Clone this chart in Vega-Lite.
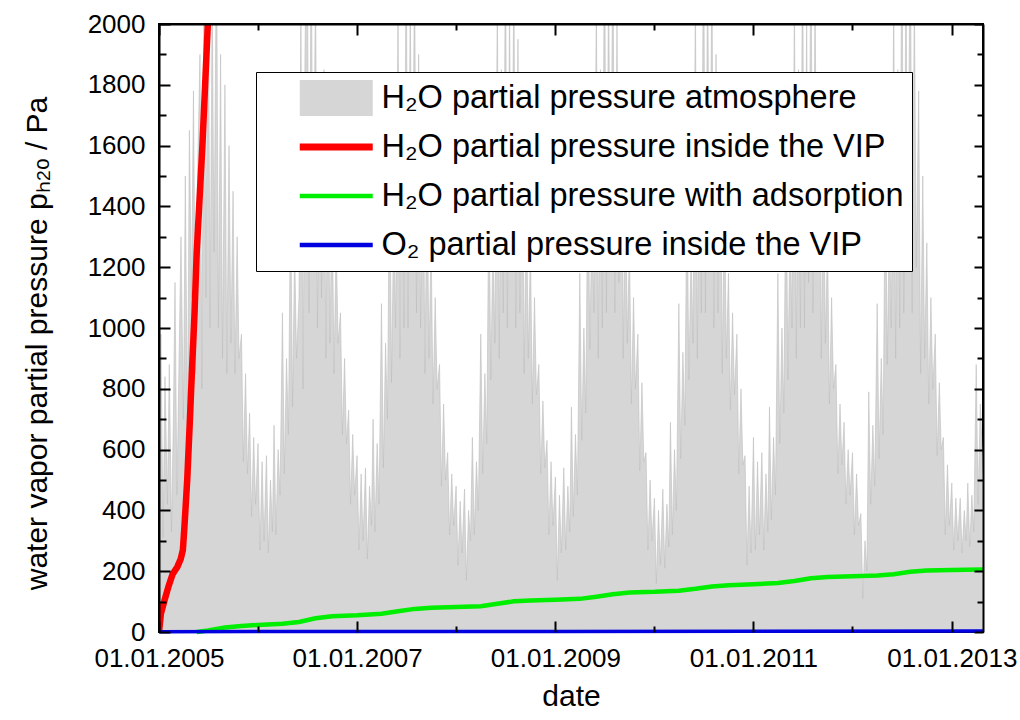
{
  "$schema": "https://vega.github.io/schema/vega-lite/v6.json",
  "width": 824,
  "height": 608,
  "autosize": "none",
  "padding": {"left": 159, "top": 24, "right": 37, "bottom": 88},
  "background": "white",
  "config": {
    "view": {"stroke": "black", "strokeWidth": 2},
    "font": "Liberation Sans",
    "legend": {"strokeWidth": 1},
    "axis": {
      "grid": false,
      "ticks": true,
      "domainColor": "black",
      "domainWidth": 2,
      "tickColor": "#000000",
      "tickOpacity": 1,
      "tickWidth": 2,
      "labelColor": "black",
      "labelFont": "Liberation Sans",
      "labelFontSize": 26,
      "titleFont": "Liberation Sans",
      "titleFontSize": 30,
      "titleFontWeight": "normal",
      "titleColor": "black"
    }
  },
  "datasets": {
    "atm": [
      {"d": "2005/01/01", "v": 620}, {"d": "2005/01/08", "v": 980}, {"d": "2005/01/16", "v": 310}, {"d": "2005/01/23", "v": 840},
      {"d": "2005/02/01", "v": 420}, {"d": "2005/02/08", "v": 880}, {"d": "2005/02/16", "v": 330}, {"d": "2005/02/23", "v": 700},
      {"d": "2005/03/01", "v": 1150}, {"d": "2005/03/08", "v": 450}, {"d": "2005/03/16", "v": 900}, {"d": "2005/03/23", "v": 1300},
      {"d": "2005/04/01", "v": 700}, {"d": "2005/04/08", "v": 1500}, {"d": "2005/04/16", "v": 640}, {"d": "2005/04/23", "v": 1650},
      {"d": "2005/05/01", "v": 1100}, {"d": "2005/05/08", "v": 1780}, {"d": "2005/05/16", "v": 850}, {"d": "2005/05/23", "v": 1500},
      {"d": "2005/06/01", "v": 1900}, {"d": "2005/06/08", "v": 800}, {"d": "2005/06/16", "v": 2250}, {"d": "2005/06/23", "v": 1100},
      {"d": "2005/07/01", "v": 2350}, {"d": "2005/07/08", "v": 1000}, {"d": "2005/07/16", "v": 2100}, {"d": "2005/07/23", "v": 1250},
      {"d": "2005/08/01", "v": 2300}, {"d": "2005/08/08", "v": 1000}, {"d": "2005/08/16", "v": 1900}, {"d": "2005/08/23", "v": 900},
      {"d": "2005/09/01", "v": 1800}, {"d": "2005/09/08", "v": 850}, {"d": "2005/09/16", "v": 1600}, {"d": "2005/09/23", "v": 950},
      {"d": "2005/10/01", "v": 1450}, {"d": "2005/10/08", "v": 850}, {"d": "2005/10/16", "v": 1300}, {"d": "2005/10/23", "v": 900},
      {"d": "2005/11/01", "v": 980}, {"d": "2005/11/08", "v": 560}, {"d": "2005/11/16", "v": 850}, {"d": "2005/11/23", "v": 520},
      {"d": "2005/12/01", "v": 720}, {"d": "2005/12/08", "v": 380}, {"d": "2005/12/16", "v": 640}, {"d": "2005/12/23", "v": 420},
      {"d": "2006/01/01", "v": 620}, {"d": "2006/01/08", "v": 270}, {"d": "2006/01/16", "v": 560}, {"d": "2006/01/23", "v": 300},
      {"d": "2006/02/01", "v": 580}, {"d": "2006/02/08", "v": 260}, {"d": "2006/02/16", "v": 500}, {"d": "2006/02/23", "v": 330},
      {"d": "2006/03/01", "v": 680}, {"d": "2006/03/08", "v": 320}, {"d": "2006/03/16", "v": 600}, {"d": "2006/03/23", "v": 450},
      {"d": "2006/04/01", "v": 1050}, {"d": "2006/04/08", "v": 520}, {"d": "2006/04/16", "v": 900}, {"d": "2006/04/23", "v": 650},
      {"d": "2006/05/01", "v": 1450}, {"d": "2006/05/08", "v": 740}, {"d": "2006/05/16", "v": 1250}, {"d": "2006/05/23", "v": 900},
      {"d": "2006/06/01", "v": 1100}, {"d": "2006/06/08", "v": 2050}, {"d": "2006/06/16", "v": 800}, {"d": "2006/06/23", "v": 1900},
      {"d": "2006/07/01", "v": 2450}, {"d": "2006/07/08", "v": 1050}, {"d": "2006/07/16", "v": 2300}, {"d": "2006/07/23", "v": 1250},
      {"d": "2006/08/01", "v": 2150}, {"d": "2006/08/08", "v": 1000}, {"d": "2006/08/16", "v": 1800}, {"d": "2006/08/23", "v": 1100},
      {"d": "2006/09/01", "v": 1850}, {"d": "2006/09/08", "v": 900}, {"d": "2006/09/16", "v": 1650}, {"d": "2006/09/23", "v": 950},
      {"d": "2006/10/01", "v": 1450}, {"d": "2006/10/08", "v": 850}, {"d": "2006/10/16", "v": 1300}, {"d": "2006/10/23", "v": 950},
      {"d": "2006/11/01", "v": 1050}, {"d": "2006/11/08", "v": 650}, {"d": "2006/11/16", "v": 900}, {"d": "2006/11/23", "v": 620},
      {"d": "2006/12/01", "v": 730}, {"d": "2006/12/08", "v": 420}, {"d": "2006/12/16", "v": 650}, {"d": "2006/12/23", "v": 450},
      {"d": "2007/01/01", "v": 580}, {"d": "2007/01/08", "v": 270}, {"d": "2007/01/16", "v": 520}, {"d": "2007/01/23", "v": 300},
      {"d": "2007/02/01", "v": 540}, {"d": "2007/02/08", "v": 240}, {"d": "2007/02/16", "v": 480}, {"d": "2007/02/23", "v": 350},
      {"d": "2007/03/01", "v": 700}, {"d": "2007/03/08", "v": 330}, {"d": "2007/03/16", "v": 620}, {"d": "2007/03/23", "v": 420},
      {"d": "2007/04/01", "v": 1080}, {"d": "2007/04/08", "v": 540}, {"d": "2007/04/16", "v": 950}, {"d": "2007/04/23", "v": 700},
      {"d": "2007/05/01", "v": 1580}, {"d": "2007/05/08", "v": 820}, {"d": "2007/05/16", "v": 1350}, {"d": "2007/05/23", "v": 1000},
      {"d": "2007/06/01", "v": 2050}, {"d": "2007/06/08", "v": 900}, {"d": "2007/06/16", "v": 1800}, {"d": "2007/06/23", "v": 1000},
      {"d": "2007/07/01", "v": 2280}, {"d": "2007/07/08", "v": 1000}, {"d": "2007/07/16", "v": 2100}, {"d": "2007/07/23", "v": 1200},
      {"d": "2007/08/01", "v": 2200}, {"d": "2007/08/08", "v": 1050}, {"d": "2007/08/16", "v": 1900}, {"d": "2007/08/23", "v": 1000},
      {"d": "2007/09/01", "v": 1750}, {"d": "2007/09/08", "v": 850}, {"d": "2007/09/16", "v": 1500}, {"d": "2007/09/23", "v": 900},
      {"d": "2007/10/01", "v": 1280}, {"d": "2007/10/08", "v": 750}, {"d": "2007/10/16", "v": 1100}, {"d": "2007/10/23", "v": 800},
      {"d": "2007/11/01", "v": 880}, {"d": "2007/11/08", "v": 480}, {"d": "2007/11/16", "v": 750}, {"d": "2007/11/23", "v": 500},
      {"d": "2007/12/01", "v": 590}, {"d": "2007/12/08", "v": 320}, {"d": "2007/12/16", "v": 520}, {"d": "2007/12/23", "v": 350},
      {"d": "2008/01/01", "v": 480}, {"d": "2008/01/08", "v": 220}, {"d": "2008/01/16", "v": 430}, {"d": "2008/01/23", "v": 260},
      {"d": "2008/02/01", "v": 470}, {"d": "2008/02/08", "v": 170}, {"d": "2008/02/16", "v": 400}, {"d": "2008/02/23", "v": 300},
      {"d": "2008/03/01", "v": 640}, {"d": "2008/03/08", "v": 320}, {"d": "2008/03/16", "v": 560}, {"d": "2008/03/23", "v": 400},
      {"d": "2008/04/01", "v": 980}, {"d": "2008/04/08", "v": 520}, {"d": "2008/04/16", "v": 850}, {"d": "2008/04/23", "v": 620},
      {"d": "2008/05/01", "v": 1480}, {"d": "2008/05/08", "v": 830}, {"d": "2008/05/16", "v": 1300}, {"d": "2008/05/23", "v": 950},
      {"d": "2008/06/01", "v": 2080}, {"d": "2008/06/08", "v": 900}, {"d": "2008/06/16", "v": 1850}, {"d": "2008/06/23", "v": 1050},
      {"d": "2008/07/01", "v": 2280}, {"d": "2008/07/08", "v": 1000}, {"d": "2008/07/16", "v": 2050}, {"d": "2008/07/23", "v": 1200},
      {"d": "2008/08/01", "v": 2150}, {"d": "2008/08/08", "v": 1000}, {"d": "2008/08/16", "v": 1950}, {"d": "2008/08/23", "v": 1050},
      {"d": "2008/09/01", "v": 1680}, {"d": "2008/09/08", "v": 850}, {"d": "2008/09/16", "v": 1450}, {"d": "2008/09/23", "v": 900},
      {"d": "2008/10/01", "v": 1270}, {"d": "2008/10/08", "v": 750}, {"d": "2008/10/16", "v": 1100}, {"d": "2008/10/23", "v": 780},
      {"d": "2008/11/01", "v": 880}, {"d": "2008/11/08", "v": 520}, {"d": "2008/11/16", "v": 760}, {"d": "2008/11/23", "v": 540},
      {"d": "2008/12/01", "v": 630}, {"d": "2008/12/08", "v": 320}, {"d": "2008/12/16", "v": 560}, {"d": "2008/12/23", "v": 350},
      {"d": "2009/01/01", "v": 510}, {"d": "2009/01/08", "v": 170}, {"d": "2009/01/16", "v": 450}, {"d": "2009/01/23", "v": 260},
      {"d": "2009/02/01", "v": 540}, {"d": "2009/02/08", "v": 270}, {"d": "2009/02/16", "v": 480}, {"d": "2009/02/23", "v": 330},
      {"d": "2009/03/01", "v": 740}, {"d": "2009/03/08", "v": 380}, {"d": "2009/03/16", "v": 650}, {"d": "2009/03/23", "v": 450},
      {"d": "2009/04/01", "v": 1180}, {"d": "2009/04/08", "v": 630}, {"d": "2009/04/16", "v": 1000}, {"d": "2009/04/23", "v": 720},
      {"d": "2009/05/01", "v": 1580}, {"d": "2009/05/08", "v": 930}, {"d": "2009/05/16", "v": 1400}, {"d": "2009/05/23", "v": 1050},
      {"d": "2009/06/01", "v": 2080}, {"d": "2009/06/08", "v": 900}, {"d": "2009/06/16", "v": 1850}, {"d": "2009/06/23", "v": 1000},
      {"d": "2009/07/01", "v": 2380}, {"d": "2009/07/08", "v": 1050}, {"d": "2009/07/16", "v": 2150}, {"d": "2009/07/23", "v": 1250},
      {"d": "2009/08/01", "v": 2280}, {"d": "2009/08/08", "v": 1050}, {"d": "2009/08/16", "v": 2000}, {"d": "2009/08/23", "v": 1150},
      {"d": "2009/09/01", "v": 1780}, {"d": "2009/09/08", "v": 900}, {"d": "2009/09/16", "v": 1550}, {"d": "2009/09/23", "v": 950},
      {"d": "2009/10/01", "v": 1280}, {"d": "2009/10/08", "v": 750}, {"d": "2009/10/16", "v": 1100}, {"d": "2009/10/23", "v": 800},
      {"d": "2009/11/01", "v": 980}, {"d": "2009/11/08", "v": 530}, {"d": "2009/11/16", "v": 820}, {"d": "2009/11/23", "v": 560},
      {"d": "2009/12/01", "v": 590}, {"d": "2009/12/08", "v": 270}, {"d": "2009/12/16", "v": 500}, {"d": "2009/12/23", "v": 300},
      {"d": "2010/01/01", "v": 440}, {"d": "2010/01/08", "v": 160}, {"d": "2010/01/16", "v": 400}, {"d": "2010/01/23", "v": 220},
      {"d": "2010/02/01", "v": 470}, {"d": "2010/02/08", "v": 210}, {"d": "2010/02/16", "v": 420}, {"d": "2010/02/23", "v": 280},
      {"d": "2010/03/01", "v": 690}, {"d": "2010/03/08", "v": 320}, {"d": "2010/03/16", "v": 600}, {"d": "2010/03/23", "v": 400},
      {"d": "2010/04/01", "v": 1080}, {"d": "2010/04/08", "v": 570}, {"d": "2010/04/16", "v": 920}, {"d": "2010/04/23", "v": 680},
      {"d": "2010/05/01", "v": 1480}, {"d": "2010/05/08", "v": 830}, {"d": "2010/05/16", "v": 1250}, {"d": "2010/05/23", "v": 950},
      {"d": "2010/06/01", "v": 2080}, {"d": "2010/06/08", "v": 900}, {"d": "2010/06/16", "v": 1800}, {"d": "2010/06/23", "v": 1050},
      {"d": "2010/07/01", "v": 2390}, {"d": "2010/07/08", "v": 1050}, {"d": "2010/07/16", "v": 2200}, {"d": "2010/07/23", "v": 1250},
      {"d": "2010/08/01", "v": 2180}, {"d": "2010/08/08", "v": 1000}, {"d": "2010/08/16", "v": 1900}, {"d": "2010/08/23", "v": 1050},
      {"d": "2010/09/01", "v": 1680}, {"d": "2010/09/08", "v": 850}, {"d": "2010/09/16", "v": 1450}, {"d": "2010/09/23", "v": 900},
      {"d": "2010/10/01", "v": 1180}, {"d": "2010/10/08", "v": 730}, {"d": "2010/10/16", "v": 1050}, {"d": "2010/10/23", "v": 780},
      {"d": "2010/11/01", "v": 980}, {"d": "2010/11/08", "v": 520}, {"d": "2010/11/16", "v": 800}, {"d": "2010/11/23", "v": 550},
      {"d": "2010/12/01", "v": 580}, {"d": "2010/12/08", "v": 220}, {"d": "2010/12/16", "v": 480}, {"d": "2010/12/23", "v": 260},
      {"d": "2011/01/01", "v": 640}, {"d": "2011/01/08", "v": 270}, {"d": "2011/01/16", "v": 560}, {"d": "2011/01/23", "v": 320},
      {"d": "2011/02/01", "v": 590}, {"d": "2011/02/08", "v": 270}, {"d": "2011/02/16", "v": 520}, {"d": "2011/02/23", "v": 330},
      {"d": "2011/03/01", "v": 740}, {"d": "2011/03/08", "v": 370}, {"d": "2011/03/16", "v": 640}, {"d": "2011/03/23", "v": 450},
      {"d": "2011/04/01", "v": 1180}, {"d": "2011/04/08", "v": 620}, {"d": "2011/04/16", "v": 1000}, {"d": "2011/04/23", "v": 720},
      {"d": "2011/05/01", "v": 1580}, {"d": "2011/05/08", "v": 830}, {"d": "2011/05/16", "v": 1350}, {"d": "2011/05/23", "v": 1000},
      {"d": "2011/06/01", "v": 2080}, {"d": "2011/06/08", "v": 900}, {"d": "2011/06/16", "v": 1850}, {"d": "2011/06/23", "v": 1000},
      {"d": "2011/07/01", "v": 2280}, {"d": "2011/07/08", "v": 1000}, {"d": "2011/07/16", "v": 2000}, {"d": "2011/07/23", "v": 1150},
      {"d": "2011/08/01", "v": 2290}, {"d": "2011/08/08", "v": 1050}, {"d": "2011/08/16", "v": 2100}, {"d": "2011/08/23", "v": 1200},
      {"d": "2011/09/01", "v": 1780}, {"d": "2011/09/08", "v": 900}, {"d": "2011/09/16", "v": 1550}, {"d": "2011/09/23", "v": 950},
      {"d": "2011/10/01", "v": 1280}, {"d": "2011/10/08", "v": 750}, {"d": "2011/10/16", "v": 1100}, {"d": "2011/10/23", "v": 800},
      {"d": "2011/11/01", "v": 880}, {"d": "2011/11/08", "v": 520}, {"d": "2011/11/16", "v": 750}, {"d": "2011/11/23", "v": 550},
      {"d": "2011/12/01", "v": 690}, {"d": "2011/12/08", "v": 420}, {"d": "2011/12/16", "v": 600}, {"d": "2011/12/23", "v": 450},
      {"d": "2012/01/01", "v": 590}, {"d": "2012/01/08", "v": 320}, {"d": "2012/01/16", "v": 520}, {"d": "2012/01/23", "v": 350},
      {"d": "2012/02/01", "v": 390}, {"d": "2012/02/08", "v": 110}, {"d": "2012/02/16", "v": 300}, {"d": "2012/02/23", "v": 200},
      {"d": "2012/03/01", "v": 790}, {"d": "2012/03/08", "v": 420}, {"d": "2012/03/16", "v": 680}, {"d": "2012/03/23", "v": 480},
      {"d": "2012/04/01", "v": 1080}, {"d": "2012/04/08", "v": 570}, {"d": "2012/04/16", "v": 900}, {"d": "2012/04/23", "v": 650},
      {"d": "2012/05/01", "v": 1580}, {"d": "2012/05/08", "v": 880}, {"d": "2012/05/16", "v": 1350}, {"d": "2012/05/23", "v": 1000},
      {"d": "2012/06/01", "v": 2080}, {"d": "2012/06/08", "v": 900}, {"d": "2012/06/16", "v": 1850}, {"d": "2012/06/23", "v": 1000},
      {"d": "2012/07/01", "v": 2380}, {"d": "2012/07/08", "v": 1050}, {"d": "2012/07/16", "v": 2150}, {"d": "2012/07/23", "v": 1250},
      {"d": "2012/08/01", "v": 2390}, {"d": "2012/08/08", "v": 1050}, {"d": "2012/08/16", "v": 2100}, {"d": "2012/08/23", "v": 1200},
      {"d": "2012/09/01", "v": 1780}, {"d": "2012/09/08", "v": 850}, {"d": "2012/09/16", "v": 1500}, {"d": "2012/09/23", "v": 900},
      {"d": "2012/10/01", "v": 1280}, {"d": "2012/10/08", "v": 750}, {"d": "2012/10/16", "v": 1100}, {"d": "2012/10/23", "v": 800},
      {"d": "2012/11/01", "v": 980}, {"d": "2012/11/08", "v": 580}, {"d": "2012/11/16", "v": 820}, {"d": "2012/11/23", "v": 600},
      {"d": "2012/12/01", "v": 640}, {"d": "2012/12/08", "v": 320}, {"d": "2012/12/16", "v": 550}, {"d": "2012/12/23", "v": 350},
      {"d": "2013/01/01", "v": 490}, {"d": "2013/01/08", "v": 270}, {"d": "2013/01/16", "v": 440}, {"d": "2013/01/23", "v": 300},
      {"d": "2013/02/01", "v": 440}, {"d": "2013/02/08", "v": 260}, {"d": "2013/02/16", "v": 400}, {"d": "2013/02/23", "v": 300},
      {"d": "2013/03/01", "v": 490}, {"d": "2013/03/08", "v": 280}, {"d": "2013/03/16", "v": 450}, {"d": "2013/03/23", "v": 330},
      {"d": "2013/04/01", "v": 880}, {"d": "2013/04/08", "v": 420}, {"d": "2013/04/16", "v": 750}, {"d": "2013/04/23", "v": 600},
      {"d": "2013/04/26", "v": 520}
    ],
    "vip": [
      {"d": "2005/01/01", "v": 0}, {"d": "2005/01/08", "v": 60}, {"d": "2005/01/20", "v": 100},
      {"d": "2005/02/05", "v": 150}, {"d": "2005/02/20", "v": 190}, {"d": "2005/03/10", "v": 215},
      {"d": "2005/03/22", "v": 240}, {"d": "2005/03/30", "v": 270}, {"d": "2005/04/05", "v": 350},
      {"d": "2005/04/15", "v": 500}, {"d": "2005/04/25", "v": 700}, {"d": "2005/05/02", "v": 850},
      {"d": "2005/05/12", "v": 1050}, {"d": "2005/05/20", "v": 1250}, {"d": "2005/06/10", "v": 1600},
      {"d": "2005/06/30", "v": 2000}, {"d": "2005/07/15", "v": 2300}
    ],
    "ads": [
      {"d": "2005/05/20", "v": 0}, {"d": "2005/07/01", "v": 5}, {"d": "2005/09/01", "v": 15}, {"d": "2005/11/01", "v": 20},
      {"d": "2006/01/01", "v": 23}, {"d": "2006/04/01", "v": 27}, {"d": "2006/06/01", "v": 33}, {"d": "2006/08/01", "v": 45}, {"d": "2006/10/01", "v": 52},
      {"d": "2007/01/01", "v": 55}, {"d": "2007/04/01", "v": 60}, {"d": "2007/06/01", "v": 68}, {"d": "2007/08/01", "v": 76}, {"d": "2007/10/01", "v": 80},
      {"d": "2008/01/01", "v": 82}, {"d": "2008/04/01", "v": 85}, {"d": "2008/06/01", "v": 93}, {"d": "2008/08/01", "v": 101}, {"d": "2008/10/01", "v": 104},
      {"d": "2009/01/01", "v": 106}, {"d": "2009/04/01", "v": 109}, {"d": "2009/06/01", "v": 116}, {"d": "2009/08/01", "v": 124}, {"d": "2009/10/01", "v": 130},
      {"d": "2010/01/01", "v": 132}, {"d": "2010/04/01", "v": 136}, {"d": "2010/06/01", "v": 142}, {"d": "2010/08/01", "v": 150}, {"d": "2010/10/01", "v": 154},
      {"d": "2011/01/01", "v": 157}, {"d": "2011/04/01", "v": 161}, {"d": "2011/06/01", "v": 168}, {"d": "2011/08/01", "v": 177}, {"d": "2011/10/01", "v": 181},
      {"d": "2012/01/01", "v": 183}, {"d": "2012/04/01", "v": 186}, {"d": "2012/06/01", "v": 190}, {"d": "2012/08/01", "v": 198}, {"d": "2012/10/01", "v": 202},
      {"d": "2013/01/01", "v": 204}, {"d": "2013/04/26", "v": 206}
    ],
    "o2": [
      {"d": "2005/01/01", "v": 1}, {"d": "2007/01/01", "v": 1.5}, {"d": "2009/01/01", "v": 2},
      {"d": "2011/01/01", "v": 2.5}, {"d": "2013/04/26", "v": 3}
    ]
  },
  "layer": [
    {
      "data": {"name": "atm"},
      "mark": {"type": "area", "clip": true},
      "encoding": {
        "x": {
          "field": "d", "type": "temporal",
          "scale": {"domain": [{"year": 2005, "month": 1, "date": 1}, {"year": 2013, "month": 4, "date": 26}]},
          "axis": {
            "orient": "bottom",
            "values": [{"year": 2005, "month": 1, "date": 1}, {"year": 2007, "month": 1, "date": 1}, {"year": 2009, "month": 1, "date": 1}, {"year": 2011, "month": 1, "date": 1}, {"year": 2013, "month": 1, "date": 1}],
            "format": "%d.%m.%Y",
            "offset": -11,
            "ticks": true,
            "tickSize": 11,
            "tickColor": "#000000",
            "tickWidth": 2,
            "labelPadding": 13,
            "labelFlush": false,
            "labelOverlap": false,
            "domain": false,
            "zindex": 2,
            "title": "date",
            "titleBaseline": "alphabetic",
            "titleY": 84
          }
        },
        "y": {
          "field": "v", "type": "quantitative",
          "scale": {"domain": [0, 2000], "nice": false, "zero": false},
          "axis": {
            "orient": "left",
            "values": [0, 200, 400, 600, 800, 1000, 1200, 1400, 1600, 1800, 2000],
            "format": "d",
            "offset": -11,
            "ticks": true,
            "tickSize": 11,
            "tickColor": "#000000",
            "tickWidth": 2,
            "labelPadding": 14,
            "labelOverlap": false,
            "domain": false,
            "zindex": 2,
            "title": "water vapor partial pressure pₕ₂ₒ / Pa",
            "titleAngle": -90,
            "titleAlign": "center",
            "titleBaseline": "alphabetic",
            "titleX": -124,
            "titleY": 319
          }
        },
        "color": {
          "datum": "H₂O partial pressure atmosphere",
          "scale": {
            "domain": ["H₂O partial pressure atmosphere", "H₂O partial pressure inside the VIP", "H₂O partial pressure with adsorption", "O₂ partial pressure inside the VIP"],
            "range": ["#d6d6d6", "#ff0000", "#00ee00", "#0000e0"]
          },
          "legend": {
            "orient": "none",
            "legendX": 97,
            "legendY": 48,
            "title": null,
            "fillColor": "white",
            "strokeColor": "black",
            "padding": 8,
            "clipHeight": 36,
            "rowPadding": 13,
            "labelFont": "Liberation Sans",
            "labelFontSize": 32.5,
            "labelColor": "black",
            "labelLimit": 800,
            "labelOffset": 29,
            "symbolOffset": 56,
            "symbolSize": 5329,
            "symbolType": {"expr": "datum.value === 'H₂O partial pressure atmosphere' ? 'M-1,-0.5H1V0.5H-1Z' : 'stroke'"},
            "symbolStrokeWidth": {"expr": "datum.value === 'H₂O partial pressure atmosphere' ? 0 : (datum.value === 'H₂O partial pressure inside the VIP' ? 7 : 4.5)"}
          }
        }
      }
    },
    {
      "data": {"name": "atm"},
      "mark": {"type": "line", "clip": true, "color": "#bdbdbd", "strokeWidth": 0.6},
      "encoding": {
        "x": {"field": "d", "type": "temporal", "axis": {"orient": "top", "domain": true, "ticks": false, "labels": false, "title": null, "zindex": 1}},
        "y": {"field": "v", "type": "quantitative", "axis": {"orient": "left", "domain": true, "ticks": false, "labels": false, "title": null, "zindex": 1}}
      }
    },
    {
      "data": {"name": "vip"},
      "mark": {"type": "line", "clip": true, "strokeWidth": 6.5},
      "encoding": {
        "x": {
          "field": "d", "type": "temporal",
          "axis": {
            "orient": "top",
            "values": [{"year": 2005, "month": 1, "date": 1}, {"year": 2007, "month": 1, "date": 1}, {"year": 2009, "month": 1, "date": 1}, {"year": 2011, "month": 1, "date": 1}, {"year": 2013, "month": 1, "date": 1}],
            "offset": -11, "ticks": true, "tickSize": 11, "tickColor": "#000000", "tickWidth": 2, "labels": false, "domain": false, "title": null, "zindex": 2
          }
        },
        "y": {
          "field": "v", "type": "quantitative",
          "axis": {
            "orient": "right",
            "values": [0, 200, 400, 600, 800, 1000, 1200, 1400, 1600, 1800, 2000],
            "offset": -9, "ticks": true, "tickSize": 9, "tickColor": "#000000", "tickWidth": 2, "labels": false, "domain": false, "title": null, "zindex": 2
          }
        },
        "color": {"datum": "H₂O partial pressure inside the VIP"}
      }
    },
    {
      "data": {"name": "ads"},
      "mark": {"type": "line", "strokeWidth": 4.5},
      "encoding": {
        "x": {
          "field": "d", "type": "temporal",
          "axis": {
            "orient": "bottom",
            "values": [{"year": 2006, "month": 1, "date": 1}, {"year": 2008, "month": 1, "date": 1}, {"year": 2010, "month": 1, "date": 1}, {"year": 2012, "month": 1, "date": 1}],
            "offset": -6, "ticks": true, "tickSize": 6, "tickColor": "#000000", "tickWidth": 2, "labels": false, "domain": false, "title": null, "zindex": 2
          }
        },
        "y": {
          "field": "v", "type": "quantitative",
          "axis": {
            "orient": "left",
            "values": [100, 300, 500, 700, 900, 1100, 1300, 1500, 1700, 1900],
            "offset": -7, "ticks": true, "tickSize": 7, "tickColor": "#000000", "tickWidth": 2, "labels": false, "domain": false, "title": null, "zindex": 2
          }
        },
        "color": {"datum": "H₂O partial pressure with adsorption"}
      }
    },
    {
      "data": {"name": "o2"},
      "mark": {"type": "line", "strokeWidth": 3.5},
      "encoding": {
        "x": {
          "field": "d", "type": "temporal",
          "axis": {
            "orient": "top",
            "values": [{"year": 2006, "month": 1, "date": 1}, {"year": 2008, "month": 1, "date": 1}, {"year": 2010, "month": 1, "date": 1}, {"year": 2012, "month": 1, "date": 1}],
            "offset": -6, "ticks": true, "tickSize": 6, "tickColor": "#000000", "tickWidth": 2, "labels": false, "domain": false, "title": null, "zindex": 2
          }
        },
        "y": {
          "field": "v", "type": "quantitative",
          "axis": {
            "orient": "right",
            "values": [100, 300, 500, 700, 900, 1100, 1300, 1500, 1700, 1900],
            "offset": -6, "ticks": true, "tickSize": 6, "tickColor": "#000000", "tickWidth": 2, "labels": false, "domain": false, "title": null, "zindex": 2
          }
        },
        "color": {"datum": "O₂ partial pressure inside the VIP"}
      }
    },
    {
      "data": {"name": "o2"},
      "mark": {"type": "line", "opacity": 0},
      "encoding": {
        "x": {"field": "d", "type": "temporal", "axis": null},
        "y": {"field": "v", "type": "quantitative", "axis": {"orient": "right", "domain": true, "ticks": false, "labels": false, "title": null, "zindex": 1}}
      }
    }
  ],
  "resolve": {"axis": {"x": "independent", "y": "independent"}}
}
